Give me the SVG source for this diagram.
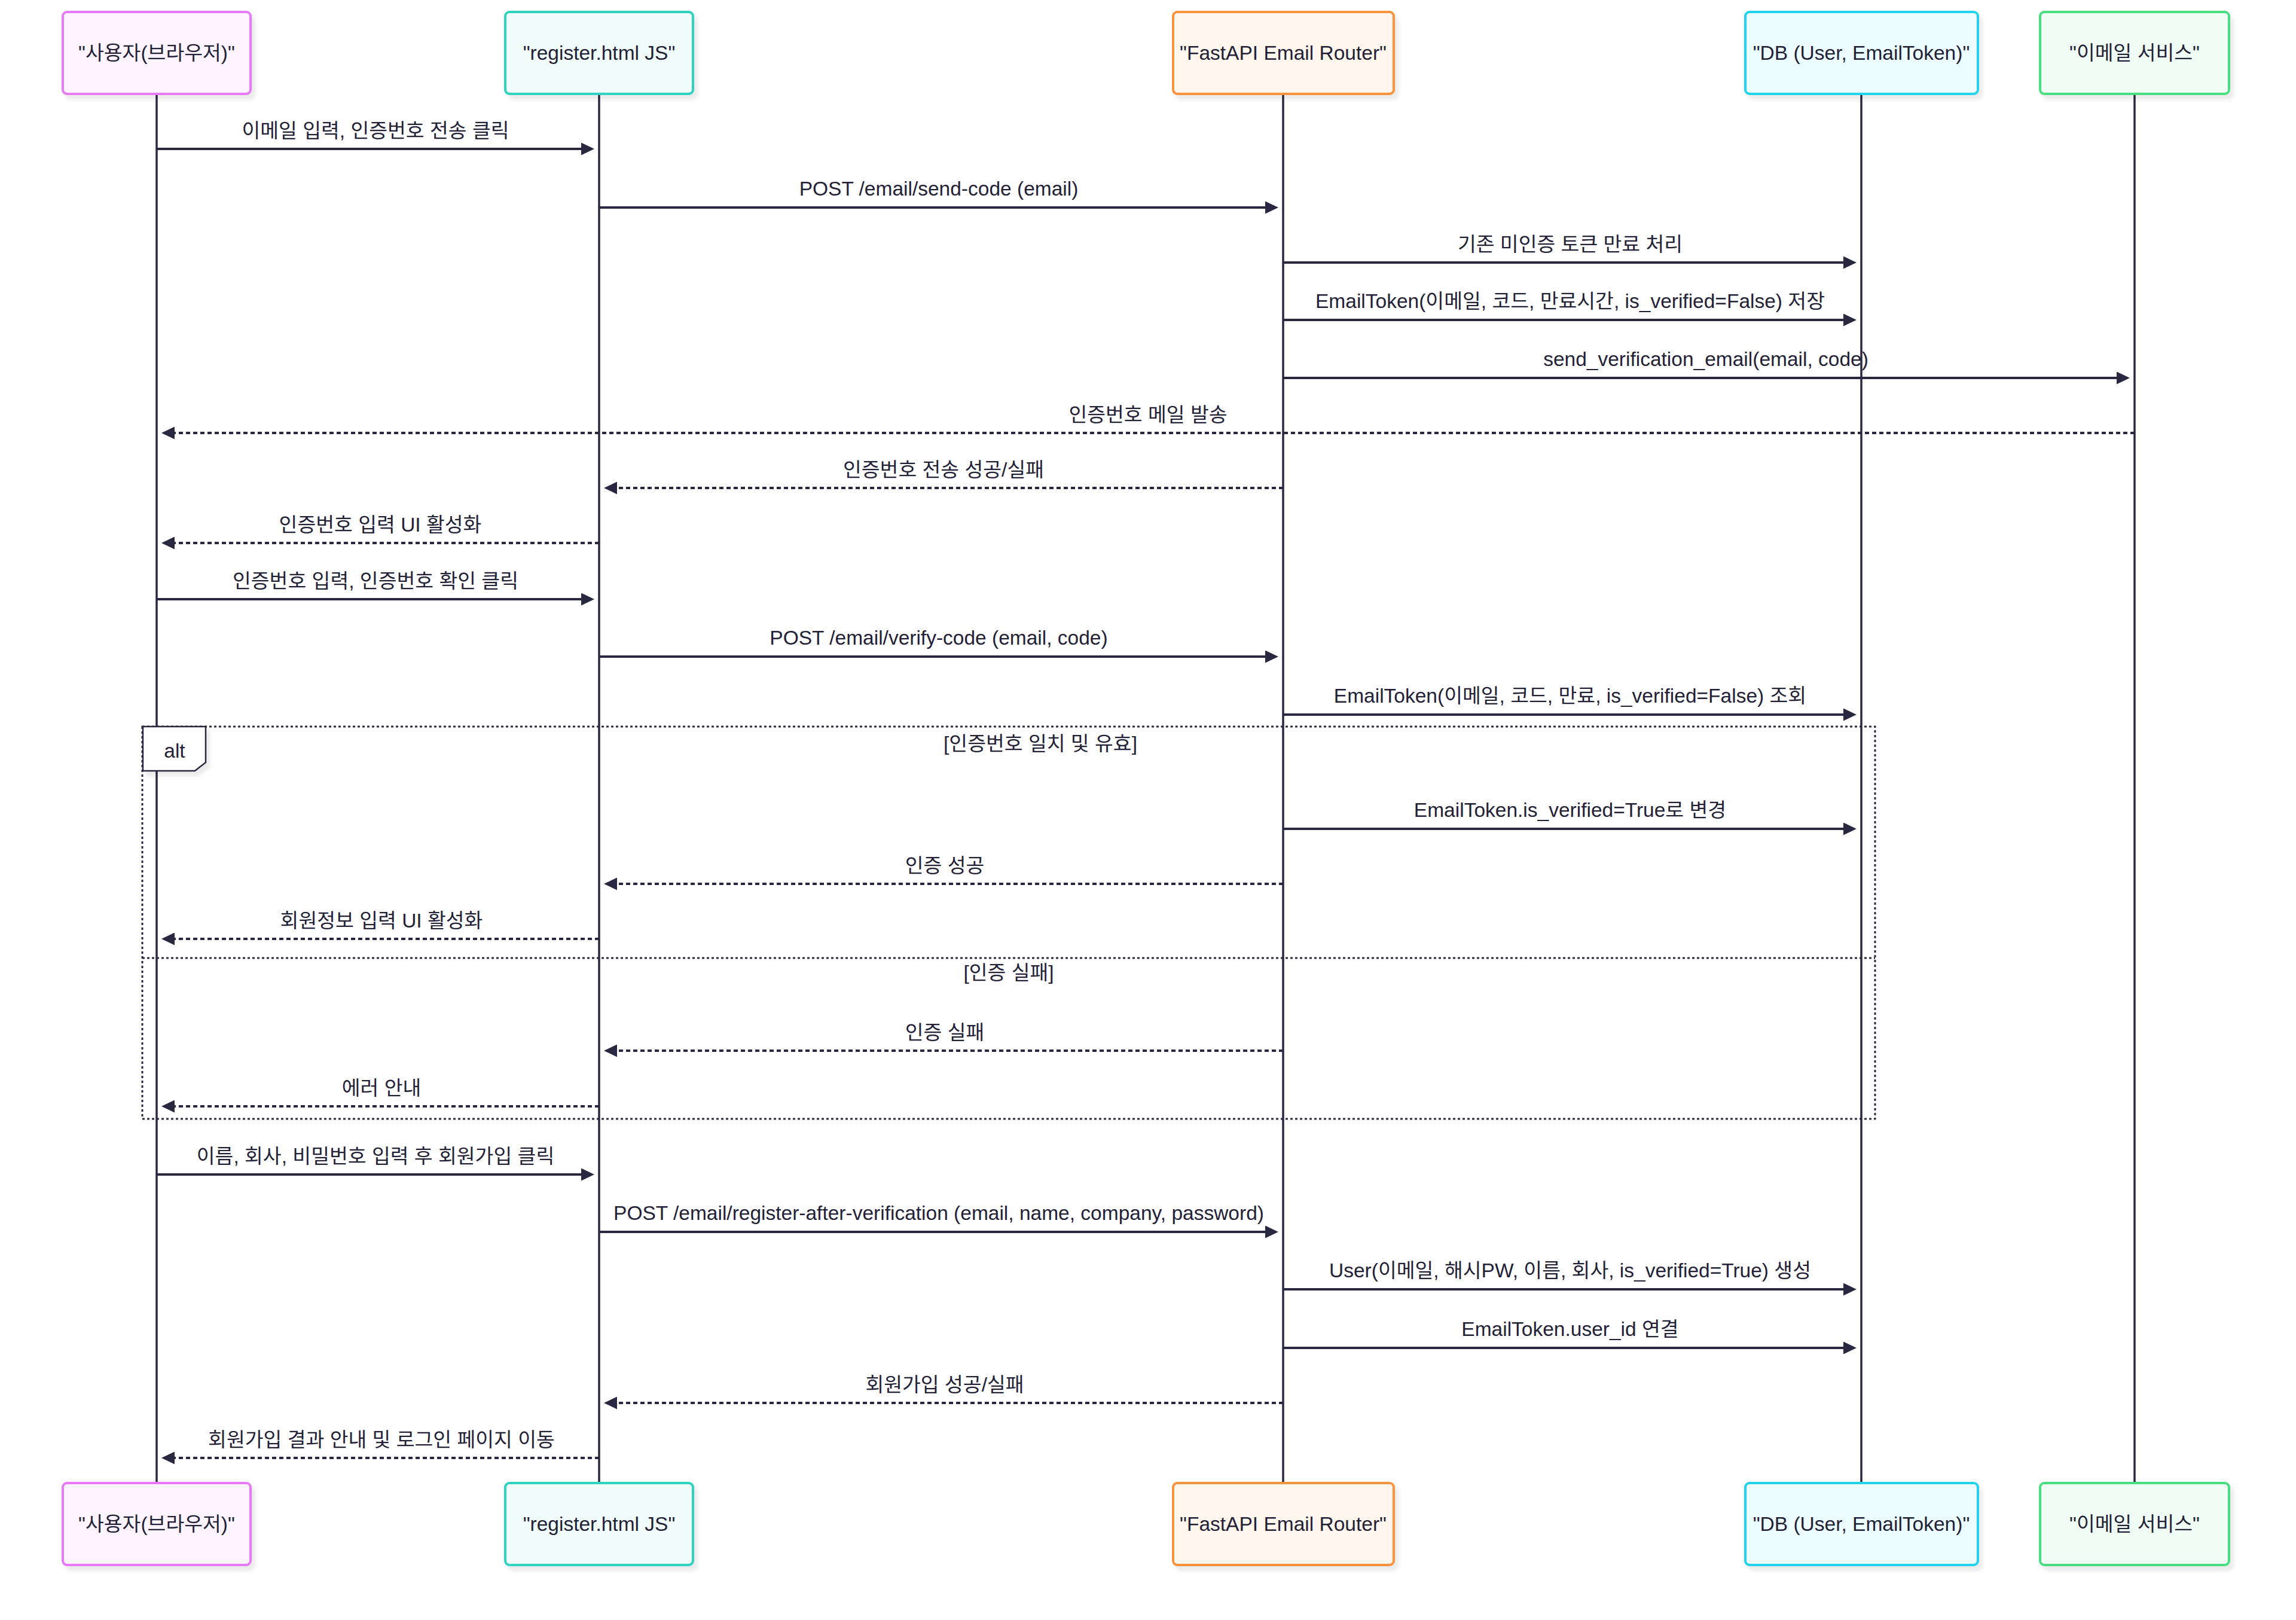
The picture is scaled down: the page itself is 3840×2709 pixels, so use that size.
<svg xmlns="http://www.w3.org/2000/svg" width="3840" height="2709" viewBox="0 0 3840 2709">
<style>
text{font-family:"Liberation Sans","Noto Sans CJK KR",sans-serif;font-size:33.5px;fill:#232136}
.actor{stroke-width:4}
.life{stroke:#2a2840;stroke-width:3.5}
.msg{stroke:#2a2840;stroke-width:4.2;fill:none}
.dash{stroke-dasharray:7 5}
.lbl{text-anchor:middle}
.loop{stroke:#2a2840;stroke-width:3;stroke-dasharray:4 4;fill:none}
</style>
<defs>
<marker id="ah" viewBox="0 0 10 10" refX="5.45" refY="5" markerWidth="22" markerHeight="21" markerUnits="userSpaceOnUse" orient="auto" preserveAspectRatio="none"><path d="M0 0 L10 5 L0 10 z" fill="#2a2840"/></marker>
<filter id="sh" x="-10%" y="-10%" width="130%" height="130%"><feDropShadow dx="6" dy="8" stdDeviation="3" flood-color="#000" flood-opacity="0.08"/></filter>
</defs>
<rect width="3840" height="2709" fill="#ffffff"/>

<g id="lifelines">
<line class="life" x1="262" y1="157" x2="262" y2="2480"/>
<line class="life" x1="1002" y1="157" x2="1002" y2="2480"/>
<line class="life" x1="2146" y1="157" x2="2146" y2="2480"/>
<line class="life" x1="3113" y1="157" x2="3113" y2="2480"/>
<line class="life" x1="3570" y1="157" x2="3570" y2="2480"/>
</g>

<g id="alt-frame">
<rect class="loop" x="238" y="1215" width="2898" height="656"/>
<line class="loop" x1="238" y1="1602" x2="3136" y2="1602"/>
<polygon points="239,1215 344,1215 344,1275 326,1289 239,1289" fill="#ffffff" stroke="#2a2840" stroke-width="2.5" filter="url(#sh)"/>
<text x="292" y="1267" class="lbl">alt</text>
<text x="1740" y="1255" class="lbl">[인증번호 일치 및 유효]</text>
<text x="1687" y="1638" class="lbl">[인증 실패]</text>
</g>

<g id="actor-user-top"><rect class="actor" x="105" y="20" width="314" height="137" rx="7" fill="#fdf4ff" stroke="#e879f9" filter="url(#sh)"/><text x="262" y="100" class="lbl">"사용자(브라우저)"</text></g>
<g id="actor-js-top"><rect class="actor" x="845" y="20" width="314" height="137" rx="7" fill="#f0fdfa" stroke="#2dd4bf" filter="url(#sh)"/><text x="1002" y="100" class="lbl">"register.html JS"</text></g>
<g id="actor-api-top"><rect class="actor" x="1962" y="20" width="369" height="137" rx="7" fill="#fff7ed" stroke="#fb923c" filter="url(#sh)"/><text x="2146" y="100" class="lbl">"FastAPI Email Router"</text></g>
<g id="actor-db-top"><rect class="actor" x="2919" y="20" width="389" height="137" rx="7" fill="#ecfeff" stroke="#22d3ee" filter="url(#sh)"/><text x="3113" y="100" class="lbl">"DB (User, EmailToken)"</text></g>
<g id="actor-mail-top"><rect class="actor" x="3412" y="20" width="316" height="137" rx="7" fill="#f0fdf4" stroke="#4ade80" filter="url(#sh)"/><text x="3570" y="100" class="lbl">"이메일 서비스"</text></g>

<g id="actor-user-bottom"><rect class="actor" x="105" y="2480" width="314" height="137" rx="7" fill="#fdf4ff" stroke="#e879f9" filter="url(#sh)"/><text x="262" y="2560" class="lbl">"사용자(브라우저)"</text></g>
<g id="actor-js-bottom"><rect class="actor" x="845" y="2480" width="314" height="137" rx="7" fill="#f0fdfa" stroke="#2dd4bf" filter="url(#sh)"/><text x="1002" y="2560" class="lbl">"register.html JS"</text></g>
<g id="actor-api-bottom"><rect class="actor" x="1962" y="2480" width="369" height="137" rx="7" fill="#fff7ed" stroke="#fb923c" filter="url(#sh)"/><text x="2146" y="2560" class="lbl">"FastAPI Email Router"</text></g>
<g id="actor-db-bottom"><rect class="actor" x="2919" y="2480" width="389" height="137" rx="7" fill="#ecfeff" stroke="#22d3ee" filter="url(#sh)"/><text x="3113" y="2560" class="lbl">"DB (User, EmailToken)"</text></g>
<g id="actor-mail-bottom"><rect class="actor" x="3412" y="2480" width="316" height="137" rx="7" fill="#f0fdf4" stroke="#4ade80" filter="url(#sh)"/><text x="3570" y="2560" class="lbl">"이메일 서비스"</text></g>

<g id="connectors">
<line class="msg" x1="262" y1="249" x2="984" y2="249" marker-end="url(#ah)"/>
<line class="msg" x1="1002" y1="347" x2="2128" y2="347" marker-end="url(#ah)"/>
<line class="msg" x1="2146" y1="439" x2="3095" y2="439" marker-end="url(#ah)"/>
<line class="msg" x1="2146" y1="535" x2="3095" y2="535" marker-end="url(#ah)"/>
<line class="msg" x1="2146" y1="632" x2="3552" y2="632" marker-end="url(#ah)"/>
<line class="msg dash" x1="3570" y1="724" x2="280" y2="724" marker-end="url(#ah)"/>
<line class="msg dash" x1="2146" y1="816" x2="1020" y2="816" marker-end="url(#ah)"/>
<line class="msg dash" x1="1002" y1="908" x2="280" y2="908" marker-end="url(#ah)"/>
<line class="msg" x1="262" y1="1002" x2="984" y2="1002" marker-end="url(#ah)"/>
<line class="msg" x1="1002" y1="1098" x2="2128" y2="1098" marker-end="url(#ah)"/>
<line class="msg" x1="2146" y1="1195" x2="3095" y2="1195" marker-end="url(#ah)"/>
<line class="msg" x1="2146" y1="1386" x2="3095" y2="1386" marker-end="url(#ah)"/>
<line class="msg dash" x1="2146" y1="1478" x2="1020" y2="1478" marker-end="url(#ah)"/>
<line class="msg dash" x1="1002" y1="1570" x2="280" y2="1570" marker-end="url(#ah)"/>
<line class="msg dash" x1="2146" y1="1757" x2="1020" y2="1757" marker-end="url(#ah)"/>
<line class="msg dash" x1="1002" y1="1850" x2="280" y2="1850" marker-end="url(#ah)"/>
<line class="msg" x1="262" y1="1964" x2="984" y2="1964" marker-end="url(#ah)"/>
<line class="msg" x1="1002" y1="2060" x2="2128" y2="2060" marker-end="url(#ah)"/>
<line class="msg" x1="2146" y1="2156" x2="3095" y2="2156" marker-end="url(#ah)"/>
<line class="msg" x1="2146" y1="2254" x2="3095" y2="2254" marker-end="url(#ah)"/>
<line class="msg dash" x1="2146" y1="2346" x2="1020" y2="2346" marker-end="url(#ah)"/>
<line class="msg dash" x1="1002" y1="2438" x2="280" y2="2438" marker-end="url(#ah)"/>
</g>

<g id="message-labels">
<text class="lbl" x="628" y="230">이메일 입력, 인증번호 전송 클릭</text>
<text class="lbl" x="1570" y="327">POST /email/send-code (email)</text>
<text class="lbl" x="2626" y="420">기존 미인증 토큰 만료 처리</text>
<text class="lbl" x="2626" y="515">EmailToken(이메일, 코드, 만료시간, is_verified=False) 저장</text>
<text class="lbl" x="2853" y="612">send_verification_email(email, code)</text>
<text class="lbl" x="1920" y="705">인증번호 메일 발송</text>
<text class="lbl" x="1578" y="797">인증번호 전송 성공/실패</text>
<text class="lbl" x="636" y="889">인증번호 입력 UI 활성화</text>
<text class="lbl" x="628" y="983">인증번호 입력, 인증번호 확인 클릭</text>
<text class="lbl" x="1570" y="1078">POST /email/verify-code (email, code)</text>
<text class="lbl" x="2626" y="1175">EmailToken(이메일, 코드, 만료, is_verified=False) 조회</text>
<text class="lbl" x="2626" y="1366">EmailToken.is_verified=True로 변경</text>
<text class="lbl" x="1580" y="1459">인증 성공</text>
<text class="lbl" x="638" y="1551">회원정보 입력 UI 활성화</text>
<text class="lbl" x="1580" y="1738">인증 실패</text>
<text class="lbl" x="638" y="1831">에러 안내</text>
<text class="lbl" x="628" y="1945">이름, 회사, 비밀번호 입력 후 회원가입 클릭</text>
<text class="lbl" x="1570" y="2040">POST /email/register-after-verification (email, name, company, password)</text>
<text class="lbl" x="2626" y="2136">User(이메일, 해시PW, 이름, 회사, is_verified=True) 생성</text>
<text class="lbl" x="2626" y="2234">EmailToken.user_id 연결</text>
<text class="lbl" x="1580" y="2327">회원가입 성공/실패</text>
<text class="lbl" x="638" y="2419">회원가입 결과 안내 및 로그인 페이지 이동</text>
</g>
</svg>
